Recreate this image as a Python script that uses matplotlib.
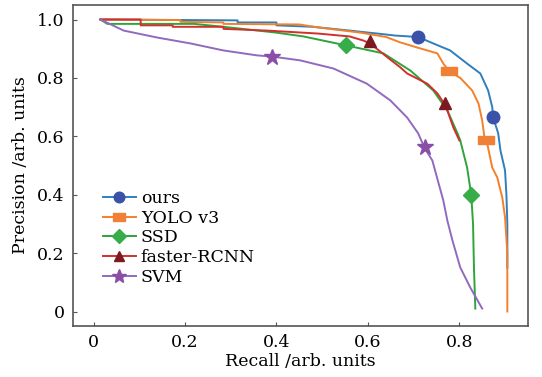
import matplotlib
matplotlib.use("Agg")
import matplotlib.pyplot as plt
from matplotlib.lines import Line2D
from matplotlib.path import Path

plt.rcParams['font.family'] = ['DejaVu Serif']

# ---- data ----
labels = ["ours", "YOLO v3", "SSD", "faster-RCNN", "SVM"]

ours_x = [0.015, 0.315, 0.315, 0.40, 0.40, 0.48, 0.56, 0.62, 0.66, 0.71, 0.743, 0.78, 0.817, 0.846, 0.863, 0.872, 0.874, 0.885, 0.89, 0.90, 0.903, 0.905, 0.905]
ours_y = [1.0, 0.997, 0.99, 0.99, 0.98, 0.975, 0.962, 0.952, 0.945, 0.94, 0.918, 0.894, 0.849, 0.815, 0.757, 0.70, 0.665, 0.61, 0.551, 0.483, 0.40, 0.30, 0.15]

yolo_x = [0.015, 0.19, 0.19, 0.284, 0.284, 0.45, 0.49, 0.584, 0.64, 0.67, 0.708, 0.752, 0.765, 0.778, 0.802, 0.828, 0.842, 0.85, 0.855, 0.861, 0.872, 0.883, 0.894, 0.90, 0.905, 0.905]
yolo_y = [1.0, 0.998, 0.992, 0.99, 0.985, 0.983, 0.973, 0.955, 0.94, 0.922, 0.904, 0.884, 0.849, 0.822, 0.80, 0.757, 0.712, 0.654, 0.596, 0.575, 0.493, 0.459, 0.39, 0.322, 0.2, 0.0]

ssd_x = [0.015, 0.03, 0.22, 0.284, 0.40, 0.459, 0.547, 0.634, 0.693, 0.743, 0.774, 0.796, 0.802, 0.817, 0.826, 0.830, 0.832, 0.835]
ssd_y = [1.0, 0.985, 0.985, 0.975, 0.955, 0.942, 0.913, 0.884, 0.825, 0.757, 0.688, 0.61, 0.586, 0.493, 0.40, 0.30, 0.15, 0.01]

frcnn_x = [0.015, 0.103, 0.103, 0.173, 0.173, 0.284, 0.284, 0.38, 0.49, 0.56, 0.59, 0.605, 0.643, 0.671, 0.686, 0.73, 0.752, 0.77, 0.787, 0.80]
frcnn_y = [1.0, 1.0, 0.98, 0.98, 0.975, 0.975, 0.968, 0.962, 0.952, 0.942, 0.928, 0.918, 0.87, 0.836, 0.815, 0.78, 0.747, 0.705, 0.63, 0.586]

svm_x = [0.015, 0.066, 0.14, 0.212, 0.284, 0.358, 0.391, 0.452, 0.525, 0.598, 0.649, 0.686, 0.71, 0.724, 0.741, 0.765, 0.774, 0.785, 0.802, 0.824, 0.85]
svm_y = [1.0, 0.962, 0.938, 0.918, 0.894, 0.877, 0.873, 0.86, 0.832, 0.78, 0.723, 0.664, 0.61, 0.56, 0.517, 0.38, 0.31, 0.243, 0.151, 0.082, 0.01]

# marker points
ours_mx, ours_my = [0.71, 0.874], [0.94, 0.665]
yolo_mx, yolo_my = [0.778, 0.859], [0.822, 0.588]
ssd_mx, ssd_my = [0.553, 0.826], [0.913, 0.40]
frcnn_mx, frcnn_my = [0.605, 0.768], [0.925, 0.715]
svm_mx, svm_my = [0.391, 0.724], [0.873, 0.565]

xticks = [0, 0.2, 0.4, 0.6, 0.8]
xticklabels = ["0", "0.2", "0.4", "0.6", "0.8"]
yticks = [0, 0.2, 0.4, 0.6, 0.8, 1.0]
yticklabels = ["0", "0.2", "0.4", "0.6", "0.8", "1.0"]

line_colors = ["#2f7fbd", "#f5802a", "#2ea43a", "#d0312d", "#9169bf"]
marker_colors = ["#3a52a8", "#f08036", "#36ad48", "#7b1a1f", "#8a4ea6"]
rect = Path([(-1.35, -0.75), (1.35, -0.75), (1.35, 0.75), (-1.35, 0.75), (-1.35, -0.75)],
            [Path.MOVETO, Path.LINETO, Path.LINETO, Path.LINETO, Path.CLOSEPOLY])
markers = ["o", rect, "D", "^", "*"]
msizes = [9, 11, 8, 9, 12]

fig = plt.figure(figsize=(5.42, 3.77), dpi=100)
ax = fig.add_axes([0.1347, 0.135, 0.8393, 0.852])

series = [(ours_x, ours_y, ours_mx, ours_my),
          (yolo_x, yolo_y, yolo_mx, yolo_my),
          (ssd_x, ssd_y, ssd_mx, ssd_my),
          (frcnn_x, frcnn_y, frcnn_mx, frcnn_my),
          (svm_x, svm_y, svm_mx, svm_my)]

handles = []
for i, (x, y, mx, my) in enumerate(series):
    ax.plot(x, y, color=line_colors[i], lw=1.4, zorder=2)
    ax.plot(mx, my, ls="none", zorder=3, marker=markers[i], ms=msizes[i],
            color=marker_colors[i], mec=marker_colors[i])
    handles.append(Line2D([], [], color=line_colors[i], lw=1.4,
                          marker=markers[i], ms=msizes[i] * 0.85,
                          mfc=marker_colors[i], mec=marker_colors[i]))

ax.set_xlim(-0.045, 0.95)
ax.set_ylim(-0.05, 1.05)
ax.set_xticks(xticks)
ax.set_xticklabels(xticklabels)
ax.set_yticks(yticks)
ax.set_yticklabels(yticklabels)
ax.tick_params(direction="in", length=3, width=0.8, color="#555555", labelsize=12.5, pad=6)
for s in ax.spines.values():
    s.set_color("#555555")
    s.set_linewidth(1.2)

ax.set_xlabel("Recall /arb. units", fontsize=12.5, labelpad=1)
ax.set_ylabel("Precision /arb. units", fontsize=12.5, labelpad=6)

leg = ax.legend(handles, labels, loc="upper left", bbox_to_anchor=(0.065, 0.423),
                frameon=False, fontsize=12.5, handlelength=1.9, handletextpad=0.3,
                labelspacing=0.15, borderpad=0, borderaxespad=0)

fig.savefig("out.png", dpi=100)
